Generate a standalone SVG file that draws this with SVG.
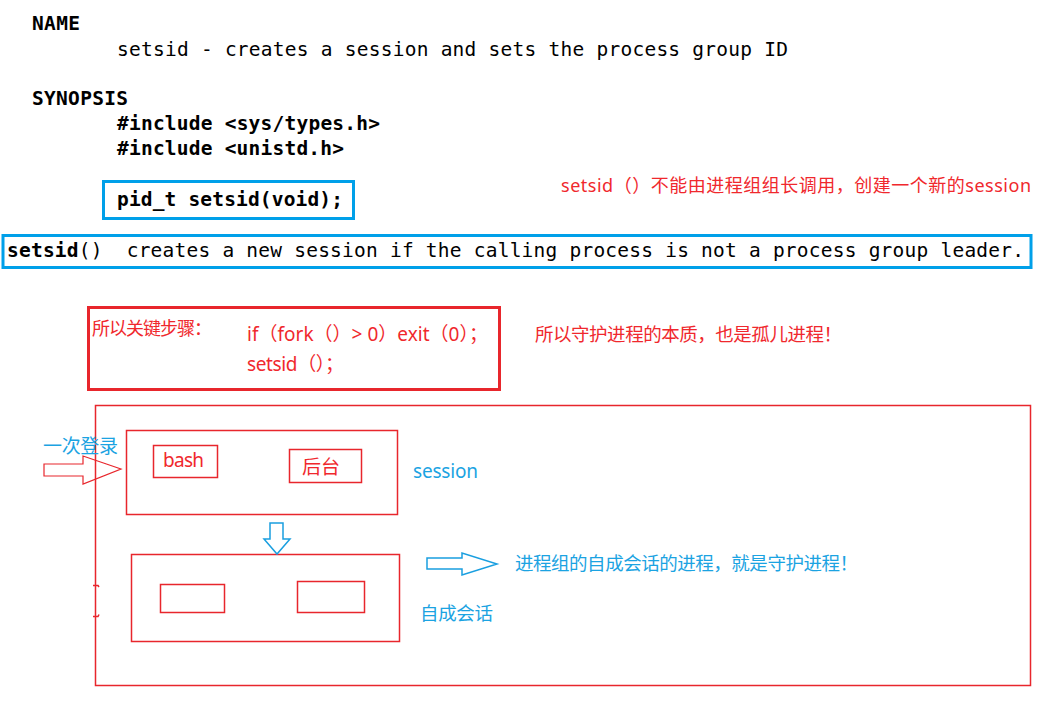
<svg xmlns="http://www.w3.org/2000/svg" width="1060" height="702" viewBox="0 0 1060 702">
<style>
.mono{font-family:"DejaVu Sans Mono","Liberation Mono",monospace;font-size:19.5px;fill:#000}
.b{font-weight:bold}
.cn{font-family:"Noto Sans","Noto Sans CJK SC",sans-serif}
.red{fill:#f0282d}
.blue{fill:#1ba3e2}
.bbox{fill:none;stroke:#00a0e9;stroke-width:3}
.rbox{fill:none;stroke:#e8262c;stroke-width:1.5}
.rthick{fill:none;stroke:#e8262c;stroke-width:3}
.rarrow{fill:none;stroke:#e8262c;stroke-width:1.2}
.barrow{fill:none;stroke:#1a9fe0;stroke-width:1.5}
</style>
<rect width="1060" height="702" fill="#fff"/>
<g id="manpage">
<text class="mono b" x="32" y="30" textLength="48">NAME</text>
<text class="mono" x="117" y="56" textLength="671">setsid - creates a session and sets the process group ID</text>
<text class="mono b" x="32" y="105" textLength="96">SYNOPSIS</text>
<text class="mono b" x="117" y="130" textLength="263">#include &lt;sys/types.h&gt;</text>
<text class="mono b" x="117" y="155" textLength="227">#include &lt;unistd.h&gt;</text>
</g>
<g id="proto">
<rect class="bbox" x="103.5" y="181.5" width="250" height="37"/>
<text class="mono b" x="117" y="206" textLength="226">pid_t setsid(void);</text>
</g>
<g id="desc">
<rect class="bbox" x="3" y="235.5" width="1028" height="32"/>
<text class="mono" x="7" y="257" textLength="1017" xml:space="preserve"><tspan class="b">setsid</tspan>()  creates a new session if the calling process is not a process group leader.</text>
</g>
<g id="note1">
<text class="cn red" x="561" y="192" font-size="18" textLength="470">setsid（）不能由进程组组长调用，创建一个新的session</text>
</g>
<g id="steps">
<rect class="rthick" x="88.5" y="307.5" width="411" height="82"/>
<text class="cn red" x="92" y="335" font-size="18" textLength="120">所以关键步骤：</text>
<text class="cn red" x="247" y="341" font-size="19" textLength="241">if（fork（）&gt; 0）exit（0）；</text>
<text class="cn red" x="247" y="371" font-size="19" textLength="97">setsid（）；</text>
</g>
<g id="note2">
<text class="cn red" x="535" y="341" font-size="18.5" textLength="307">所以守护进程的本质，也是孤儿进程！</text>
</g>
<g id="outer">
<rect class="rbox" x="95.5" y="405.5" width="935" height="280"/>
<path class="rbox" d="M93 585.5 H98 L99 587 M93 616.5 H98 L99 614.5"/>
</g>
<g id="login">
<text class="cn blue" x="43" y="453" font-size="19" textLength="75">一次登录</text>
</g>
<g id="session">
<rect class="rbox" x="126.5" y="430.5" width="271" height="84"/>
<text class="cn blue" x="413" y="478" font-size="19" textLength="65">session</text>
</g>
<g id="bash">
<rect class="rbox" x="153.5" y="445.5" width="64" height="32"/>
<text class="cn red" x="163" y="467" font-size="19" textLength="41">bash</text>
</g>
<g id="bg">
<rect class="rbox" x="289.5" y="449.5" width="72" height="33"/>
<text class="cn red" x="302" y="474" font-size="19" textLength="38">后台</text>
</g>
<g id="selfsession">
<rect class="rbox" x="131.5" y="554.5" width="268" height="87"/>
<text class="cn blue" x="420" y="620" font-size="18.5" textLength="73">自成会话</text>
</g>
<g id="inner1">
<rect class="rbox" x="160.5" y="584.5" width="64" height="28"/>
</g>
<g id="inner2">
<rect class="rbox" x="297.5" y="581.5" width="67" height="31"/>
</g>
<g id="daemon">
<text class="cn blue" x="515" y="570" font-size="18.5" textLength="343">进程组的自成会话的进程，就是守护进程！</text>
</g>
<g id="connectors">
<polygon class="rarrow" points="44,464 83,464 83,456 121,469 83,484 83,476 44,476"/>
<polygon class="barrow" points="270,523 283,523 283,539 290,539 277,554 264,539 270,539"/>
<polygon class="barrow" points="427,558 462,558 462,553 497,564 462,575 462,569 427,569"/>
</g>
</svg>
